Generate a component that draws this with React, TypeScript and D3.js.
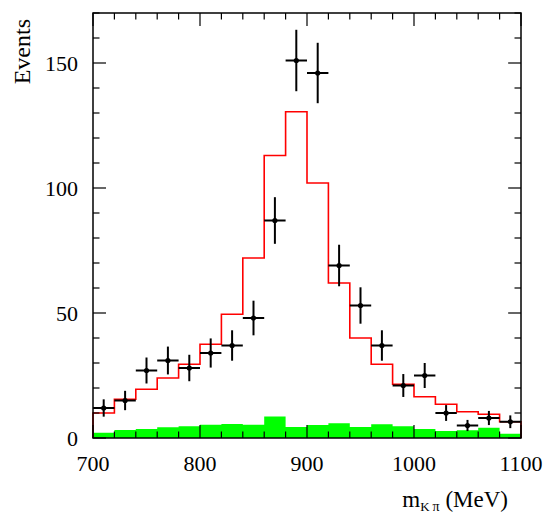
import React from 'react';
import * as d3 from 'd3';

// bin lower edges (MeV), 20 MeV wide
const binEdges = [700, 720, 740, 760, 780, 800, 820, 840, 860, 880, 900, 920, 940, 960, 980, 1000, 1020, 1040, 1060, 1080];
const binWidth = 20;

// measured events per bin
const dataCounts = [12, 15, 27, 31, 28, 34, 37, 48, 87, 151, 146, 69, 53, 37, 21, 25, 10, 5, 8, 6.5];
// fitted total (red histogram)
const fitCounts = [10, 15.5, 19.5, 24, 29.5, 37.5, 49.5, 72, 113, 130.5, 102, 62, 40, 29.5, 21.5, 16.5, 13.5, 10.5, 9.5, 6.5];
// background (green filled)
const bkgCounts = [2.1, 3.2, 3.6, 4.3, 4.7, 5.3, 5.6, 5.3, 8.6, 4.4, 5.2, 5.9, 4.4, 5.5, 4.7, 3.6, 2.8, 3.1, 4.1, 1.7];

const xTickLabels = [700, 800, 900, 1000, 1100];
const yTickLabels = [0, 50, 100, 150];

const W = 544;
const H = 514;
const margin = { left: 93, right: 23, top: 13, bottom: 76 };
const font = "'Liberation Serif', 'Times New Roman', Times, serif";

export default function App() {
  const x = d3.scaleLinear().domain([700, 1100]).range([margin.left, W - margin.right]);
  const y = d3.scaleLinear().domain([0, 170]).range([H - margin.bottom, margin.top]);
  const [x0, x1] = x.range();
  const [yb, yt] = y.range();

  // step path for fitted histogram
  const fitPts: [number, number][] = [[700, 0]];
  binEdges.forEach((e, i) => {
    fitPts.push([e, fitCounts[i]]);
    fitPts.push([e + binWidth, fitCounts[i]]);
  });
  fitPts.push([1100, 0]);
  const fitLine = d3.line<[number, number]>().x(d => x(d[0])).y(d => y(d[1]));

  const bkgArea = d3.area<[number, number]>().x(d => x(d[0])).y0(y(0)).y1(d => y(d[1]));
  const bkgPts: [number, number][] = [];
  binEdges.forEach((e, i) => {
    bkgPts.push([e, bkgCounts[i]]);
    bkgPts.push([e + binWidth, bkgCounts[i]]);
  });

  const yMinor = d3.range(0, 171, 10);
  const xMinor = d3.range(700, 1101, 20);

  return (
    <svg width={W} height={H} style={{ position: 'absolute', left: 0, top: 0, fontFamily: font }}>
      <rect width={W} height={H} fill="#fff" />
      <path d={bkgArea(bkgPts) ?? ''} fill="#00ff00" />
      <path d={fitLine(fitPts) ?? ''} fill="none" stroke="#ff0000" strokeWidth={1.6} />

      {binEdges.map((e, i) => {
        const c = e + binWidth / 2;
        const n = dataCounts[i];
        const err = Math.sqrt(n);
        return (
          <g key={e} stroke="#000" strokeWidth={2}>
            <line x1={x(e)} x2={x(e + binWidth)} y1={y(n)} y2={y(n)} />
            <line x1={x(c)} x2={x(c)} y1={y(n - err)} y2={y(n + err)} />
            <circle cx={x(c)} cy={y(n)} r={2.6} fill="#000" stroke="none" />
          </g>
        );
      })}

      {/* ticks */}
      <g stroke="#000" strokeWidth={1.2}>
        {yMinor.map(v => {
          const len = v % 50 === 0 ? 13 : 6.5;
          return (
            <g key={'y' + v}>
              <line x1={x0} x2={x0 + len} y1={y(v)} y2={y(v)} />
              <line x1={x1} x2={x1 - len} y1={y(v)} y2={y(v)} />
            </g>
          );
        })}
        {xMinor.map(v => {
          const len = v % 100 === 0 ? 13 : 6.5;
          return (
            <g key={'x' + v}>
              <line x1={x(v)} x2={x(v)} y1={yb} y2={yb - len} />
              <line x1={x(v)} x2={x(v)} y1={yt} y2={yt + len} />
            </g>
          );
        })}
      </g>

      <rect x={x0} y={yt} width={x1 - x0} height={yb - yt} fill="none" stroke="#000" strokeWidth={1.5} />

      {yTickLabels.map(v => (
        <text key={v} x={x0 - 15} y={y(v)} dy="0.35em" textAnchor="end" fontSize={22}>{v}</text>
      ))}
      {xTickLabels.map(v => (
        <text key={v} x={x(v)} y={471} textAnchor="middle" fontSize={22}>{v}</text>
      ))}

      <text transform="translate(30,19) rotate(-90)" textAnchor="end" fontSize={24}>Events</text>
      <text x={508} y={507} textAnchor="end" fontSize={23}>
        m<tspan fontSize={13} dy={4}>K</tspan><tspan fontSize={14} dx={3}>π</tspan><tspan dy={-4}> (MeV)</tspan>
      </text>
    </svg>
  );
}
